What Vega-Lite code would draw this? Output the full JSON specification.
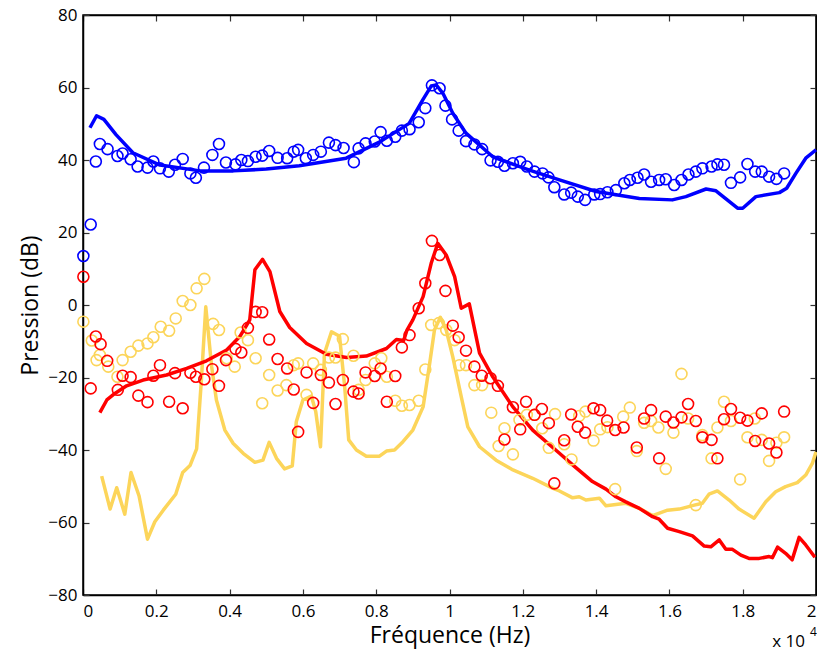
{
  "$schema": "https://vega.github.io/schema/vega-lite/v6.json",
  "width": 733,
  "height": 580,
  "autosize": "none",
  "padding": {"left": 83, "top": 15, "right": 1, "bottom": 57},
  "background": "white",
  "config": {
    "font": "Open Sans",
    "view": {"stroke": "black", "strokeWidth": 1.5},
    "axis": {
      "domainColor": "black", "domainWidth": 1.5, "tickColor": "#333", "tickWidth": 1.2,
      "tickSize": -6, "grid": false, "labelFont": "Open Sans", "labelFontSize": 17,
      "labelColor": "black", "titleFont": "Open Sans", "titleFontSize": 23,
      "titleFontWeight": "normal", "titleColor": "black"
    }
  },
  "datasets": {
    "lines": [
      {"s":"b","f":0.019,"p":48.9},{"s":"b","f":0.037,"p":52.2},{"s":"b","f":0.057,"p":51.2},{"s":"b","f":0.09,"p":47},{"s":"b","f":0.136,"p":42},{"s":"b","f":0.21,"p":38.6},{"s":"b","f":0.32,"p":37},{"s":"b","f":0.41,"p":37},{"s":"b","f":0.5,"p":37.5},{"s":"b","f":0.59,"p":38.4},{"s":"b","f":0.718,"p":40.5},{"s":"b","f":0.81,"p":45},{"s":"b","f":0.89,"p":50.1},{"s":"b","f":0.927,"p":56.6},{"s":"b","f":0.95,"p":60.4},{"s":"b","f":0.964,"p":60.7},{"s":"b","f":0.982,"p":58.4},{"s":"b","f":1.009,"p":52.9},{"s":"b","f":1.045,"p":47.4},{"s":"b","f":1.118,"p":40.9},{"s":"b","f":1.218,"p":37.2},{"s":"b","f":1.3,"p":34.5},{"s":"b","f":1.4,"p":31.3},{"s":"b","f":1.518,"p":29.4},{"s":"b","f":1.608,"p":29},{"s":"b","f":1.645,"p":29.9},{"s":"b","f":1.7,"p":32},{"s":"b","f":1.727,"p":31.5},{"s":"b","f":1.786,"p":26.7},{"s":"b","f":1.8,"p":26.7},{"s":"b","f":1.836,"p":29.9},{"s":"b","f":1.9,"p":31},{"s":"b","f":1.92,"p":32.2},{"s":"b","f":1.945,"p":36.3},{"s":"b","f":1.972,"p":40.5},{"s":"b","f":2.0,"p":42.8},
      {"s":"y","f":0.051,"p":-47.2},{"s":"y","f":0.074,"p":-56.3},{"s":"y","f":0.092,"p":-50.4},{"s":"y","f":0.114,"p":-57.7},{"s":"y","f":0.131,"p":-46.2},{"s":"y","f":0.153,"p":-52.7},{"s":"y","f":0.176,"p":-64.6},{"s":"y","f":0.196,"p":-59.8},{"s":"y","f":0.219,"p":-56.6},{"s":"y","f":0.253,"p":-52.2},{"s":"y","f":0.272,"p":-46.2},{"s":"y","f":0.292,"p":-44.3},{"s":"y","f":0.31,"p":-39.7},{"s":"y","f":0.323,"p":-20.7},{"s":"y","f":0.335,"p":-0.5},{"s":"y","f":0.351,"p":-17},{"s":"y","f":0.364,"p":-26.2},{"s":"y","f":0.387,"p":-34.5},{"s":"y","f":0.41,"p":-38.2},{"s":"y","f":0.437,"p":-40.9},{"s":"y","f":0.469,"p":-43.4},{"s":"y","f":0.491,"p":-42.8},{"s":"y","f":0.508,"p":-37.9},{"s":"y","f":0.528,"p":-42.3},{"s":"y","f":0.55,"p":-45.2},{"s":"y","f":0.571,"p":-44.4},{"s":"y","f":0.582,"p":-32.2},{"s":"y","f":0.6,"p":-26.2},{"s":"y","f":0.623,"p":-25.1},{"s":"y","f":0.635,"p":-29.4},{"s":"y","f":0.648,"p":-39.1},{"s":"y","f":0.659,"p":-13.3},{"s":"y","f":0.678,"p":-7.4},{"s":"y","f":0.7,"p":-8.6},{"s":"y","f":0.714,"p":-22.5},{"s":"y","f":0.725,"p":-37.2},{"s":"y","f":0.746,"p":-40},{"s":"y","f":0.773,"p":-41.7},{"s":"y","f":0.809,"p":-41.7},{"s":"y","f":0.828,"p":-40.3},{"s":"y","f":0.85,"p":-40},{"s":"y","f":0.873,"p":-37.7},{"s":"y","f":0.9,"p":-34.5},{"s":"y","f":0.928,"p":-28.1},{"s":"y","f":0.946,"p":-16.1},{"s":"y","f":0.959,"p":-6.9},{"s":"y","f":0.975,"p":-3.4},{"s":"y","f":0.991,"p":-6.9},{"s":"y","f":1.009,"p":-14.3},{"s":"y","f":1.032,"p":-25.3},{"s":"y","f":1.05,"p":-33.6},{"s":"y","f":1.082,"p":-39.1},{"s":"y","f":1.127,"p":-42.8},{"s":"y","f":1.173,"p":-45.5},{"s":"y","f":1.227,"p":-47.8},{"s":"y","f":1.281,"p":-50.5},{"s":"y","f":1.3,"p":-51.3},{"s":"y","f":1.336,"p":-53.2},{"s":"y","f":1.354,"p":-52.9},{"s":"y","f":1.372,"p":-53.8},{"s":"y","f":1.409,"p":-53.3},{"s":"y","f":1.427,"p":-55.4},{"s":"y","f":1.481,"p":-54.7},{"s":"y","f":1.518,"p":-56.1},{"s":"y","f":1.554,"p":-58.1},{"s":"y","f":1.595,"p":-56.6},{"s":"y","f":1.627,"p":-56.3},{"s":"y","f":1.668,"p":-55.2},{"s":"y","f":1.69,"p":-54.7},{"s":"y","f":1.708,"p":-52.2},{"s":"y","f":1.731,"p":-51.3},{"s":"y","f":1.763,"p":-53.8},{"s":"y","f":1.79,"p":-56.3},{"s":"y","f":1.831,"p":-58.8},{"s":"y","f":1.863,"p":-54.3},{"s":"y","f":1.89,"p":-51.5},{"s":"y","f":1.917,"p":-50.1},{"s":"y","f":1.949,"p":-49},{"s":"y","f":1.972,"p":-46.9},{"s":"y","f":1.99,"p":-43.7},{"s":"y","f":2.0,"p":-40.5},
      {"s":"r","f":0.046,"p":-29.7},{"s":"r","f":0.065,"p":-26.2},{"s":"r","f":0.087,"p":-24.4},{"s":"r","f":0.119,"p":-22.3},{"s":"r","f":0.164,"p":-20.7},{"s":"r","f":0.228,"p":-19.3},{"s":"r","f":0.283,"p":-17.5},{"s":"r","f":0.337,"p":-15.4},{"s":"r","f":0.392,"p":-12.4},{"s":"r","f":0.428,"p":-8.7},{"s":"r","f":0.455,"p":-4.1},{"s":"r","f":0.469,"p":9.7},{"s":"r","f":0.49,"p":12.6},{"s":"r","f":0.51,"p":9.2},{"s":"r","f":0.537,"p":-1.8},{"s":"r","f":0.564,"p":-6.2},{"s":"r","f":0.61,"p":-10.6},{"s":"r","f":0.664,"p":-13.6},{"s":"r","f":0.719,"p":-14.5},{"s":"r","f":0.773,"p":-14.1},{"s":"r","f":0.828,"p":-12},{"s":"r","f":0.855,"p":-9.5},{"s":"r","f":0.875,"p":-9.8},{"s":"r","f":0.884,"p":-6.9},{"s":"r","f":0.9,"p":-4.1},{"s":"r","f":0.928,"p":2.3},{"s":"r","f":0.95,"p":11.5},{"s":"r","f":0.968,"p":17},{"s":"r","f":0.991,"p":13.8},{"s":"r","f":1.014,"p":7.8},{"s":"r","f":1.032,"p":-0.9},{"s":"r","f":1.054,"p":0.3},{"s":"r","f":1.082,"p":-13.3},{"s":"r","f":1.118,"p":-19.8},{"s":"r","f":1.173,"p":-28.1},{"s":"r","f":1.227,"p":-34.5},{"s":"r","f":1.3,"p":-40.9},{"s":"r","f":1.336,"p":-44.1},{"s":"r","f":1.39,"p":-48.7},{"s":"r","f":1.427,"p":-50.8},{"s":"r","f":1.454,"p":-52.9},{"s":"r","f":1.481,"p":-54.3},{"s":"r","f":1.518,"p":-56.1},{"s":"r","f":1.554,"p":-58.4},{"s":"r","f":1.572,"p":-59.1},{"s":"r","f":1.595,"p":-61.6},{"s":"r","f":1.627,"p":-62.5},{"s":"r","f":1.663,"p":-63.7},{"s":"r","f":1.695,"p":-66.5},{"s":"r","f":1.713,"p":-66.7},{"s":"r","f":1.736,"p":-64.8},{"s":"r","f":1.754,"p":-67.4},{"s":"r","f":1.772,"p":-67.4},{"s":"r","f":1.795,"p":-69},{"s":"r","f":1.817,"p":-69.9},{"s":"r","f":1.845,"p":-69.9},{"s":"r","f":1.872,"p":-69.4},{"s":"r","f":1.881,"p":-69.7},{"s":"r","f":1.895,"p":-66.8},{"s":"r","f":1.917,"p":-68.5},{"s":"r","f":1.935,"p":-70.3},{"s":"r","f":1.954,"p":-64.1},{"s":"r","f":1.972,"p":-66.2},{"s":"r","f":1.997,"p":-69.6}
    ],
    "pts": [
      {"s":"b","f":0.001,"p":13.5},{"s":"b","f":0.021,"p":22.2},{"s":"b","f":0.035,"p":39.6},{"s":"b","f":0.046,"p":44.4},{"s":"b","f":0.067,"p":43},{"s":"b","f":0.094,"p":41.1},{"s":"b","f":0.108,"p":41.8},{"s":"b","f":0.13,"p":40.2},{"s":"b","f":0.149,"p":38.2},{"s":"b","f":0.176,"p":37.9},{"s":"b","f":0.192,"p":39.6},{"s":"b","f":0.21,"p":37.7},{"s":"b","f":0.234,"p":36.8},{"s":"b","f":0.251,"p":38.7},{"s":"b","f":0.272,"p":40.3},{"s":"b","f":0.293,"p":36.3},{"s":"b","f":0.308,"p":35.1},{"s":"b","f":0.33,"p":37.9},{"s":"b","f":0.353,"p":41.4},{"s":"b","f":0.371,"p":44.4},{"s":"b","f":0.39,"p":39.3},{"s":"b","f":0.416,"p":38.8},{"s":"b","f":0.432,"p":40},{"s":"b","f":0.45,"p":39.7},{"s":"b","f":0.471,"p":40.9},{"s":"b","f":0.489,"p":41.2},{"s":"b","f":0.508,"p":42.5},{"s":"b","f":0.531,"p":40.6},{"s":"b","f":0.557,"p":40.5},{"s":"b","f":0.575,"p":42.3},{"s":"b","f":0.587,"p":42.8},{"s":"b","f":0.608,"p":40.5},{"s":"b","f":0.628,"p":41.4},{"s":"b","f":0.649,"p":42.3},{"s":"b","f":0.671,"p":44.8},{"s":"b","f":0.689,"p":44.1},{"s":"b","f":0.711,"p":43.3},{"s":"b","f":0.739,"p":39.4},{"s":"b","f":0.752,"p":43.2},{"s":"b","f":0.771,"p":44.6},{"s":"b","f":0.796,"p":45.1},{"s":"b","f":0.812,"p":47.7},{"s":"b","f":0.829,"p":45.3},{"s":"b","f":0.852,"p":46.4},{"s":"b","f":0.87,"p":48.1},{"s":"b","f":0.891,"p":48.5},{"s":"b","f":0.916,"p":50.4},{"s":"b","f":0.934,"p":54.3},{"s":"b","f":0.952,"p":60.6},{"s":"b","f":0.973,"p":59.8},{"s":"b","f":0.989,"p":55},{"s":"b","f":1.007,"p":51.2},{"s":"b","f":1.025,"p":48.1},{"s":"b","f":1.045,"p":45.2},{"s":"b","f":1.068,"p":44.3},{"s":"b","f":1.089,"p":43},{"s":"b","f":1.112,"p":39.9},{"s":"b","f":1.132,"p":39.5},{"s":"b","f":1.15,"p":38.4},{"s":"b","f":1.173,"p":39.1},{"s":"b","f":1.193,"p":39.5},{"s":"b","f":1.211,"p":38.2},{"s":"b","f":1.232,"p":36.8},{"s":"b","f":1.254,"p":36.3},{"s":"b","f":1.27,"p":35.2},{"s":"b","f":1.286,"p":32.5},{"s":"b","f":1.313,"p":30.5},{"s":"b","f":1.332,"p":31},{"s":"b","f":1.35,"p":29.9},{"s":"b","f":1.37,"p":29},{"s":"b","f":1.395,"p":30.5},{"s":"b","f":1.411,"p":30.6},{"s":"b","f":1.431,"p":31.1},{"s":"b","f":1.454,"p":31.7},{"s":"b","f":1.477,"p":33.6},{"s":"b","f":1.492,"p":34.5},{"s":"b","f":1.513,"p":35.1},{"s":"b","f":1.531,"p":36},{"s":"b","f":1.55,"p":34},{"s":"b","f":1.572,"p":34.5},{"s":"b","f":1.59,"p":34.7},{"s":"b","f":1.613,"p":33.1},{"s":"b","f":1.633,"p":34.5},{"s":"b","f":1.652,"p":36},{"s":"b","f":1.672,"p":36.8},{"s":"b","f":1.69,"p":37.7},{"s":"b","f":1.715,"p":38.2},{"s":"b","f":1.731,"p":38.8},{"s":"b","f":1.749,"p":38.7},{"s":"b","f":1.768,"p":33.7},{"s":"b","f":1.793,"p":35.2},{"s":"b","f":1.813,"p":38.9},{"s":"b","f":1.834,"p":36.8},{"s":"b","f":1.852,"p":36.8},{"s":"b","f":1.872,"p":35.4},{"s":"b","f":1.892,"p":34.8},{"s":"b","f":1.913,"p":36.3},
      {"s":"y","f":0.001,"p":-4.6},{"s":"y","f":0.024,"p":-9.8},{"s":"y","f":0.037,"p":-15.2},{"s":"y","f":0.046,"p":-13.8},{"s":"y","f":0.069,"p":-17},{"s":"y","f":0.094,"p":-19.8},{"s":"y","f":0.108,"p":-15.2},{"s":"y","f":0.13,"p":-12.9},{"s":"y","f":0.151,"p":-11.2},{"s":"y","f":0.176,"p":-10.6},{"s":"y","f":0.192,"p":-8.9},{"s":"y","f":0.212,"p":-6},{"s":"y","f":0.235,"p":-7.1},{"s":"y","f":0.253,"p":-3.7},{"s":"y","f":0.272,"p":1.1},{"s":"y","f":0.293,"p":0},{"s":"y","f":0.31,"p":4.6},{"s":"y","f":0.331,"p":7.2},{"s":"y","f":0.355,"p":-5.2},{"s":"y","f":0.371,"p":-6.9},{"s":"y","f":0.392,"p":-14.7},{"s":"y","f":0.414,"p":-17},{"s":"y","f":0.43,"p":-7.6},{"s":"y","f":0.45,"p":-9.7},{"s":"y","f":0.471,"p":-14.7},{"s":"y","f":0.489,"p":-27.1},{"s":"y","f":0.508,"p":-19.3},{"s":"y","f":0.531,"p":-23.6},{"s":"y","f":0.555,"p":-22.1},{"s":"y","f":0.575,"p":-16.6},{"s":"y","f":0.587,"p":-16.1},{"s":"y","f":0.61,"p":-24.8},{"s":"y","f":0.628,"p":-16.1},{"s":"y","f":0.649,"p":-17.9},{"s":"y","f":0.671,"p":-14.5},{"s":"y","f":0.689,"p":-14.5},{"s":"y","f":0.709,"p":-9.4},{"s":"y","f":0.738,"p":-14},{"s":"y","f":0.752,"p":-23.4},{"s":"y","f":0.771,"p":-20.7},{"s":"y","f":0.796,"p":-16.1},{"s":"y","f":0.814,"p":-14.7},{"s":"y","f":0.829,"p":-19.8},{"s":"y","f":0.852,"p":-26.4},{"s":"y","f":0.87,"p":-27.8},{"s":"y","f":0.891,"p":-27.6},{"s":"y","f":0.916,"p":-26.4},{"s":"y","f":0.934,"p":-17.8},{"s":"y","f":0.95,"p":-5.5},{"s":"y","f":0.971,"p":-5},{"s":"y","f":0.991,"p":-6.9},{"s":"y","f":1.014,"p":-9.7},{"s":"y","f":1.027,"p":-16.6},{"s":"y","f":1.045,"p":-16.6},{"s":"y","f":1.068,"p":-22.1},{"s":"y","f":1.089,"p":-22.1},{"s":"y","f":1.114,"p":-29.7},{"s":"y","f":1.134,"p":-38.9},{"s":"y","f":1.15,"p":-34},{"s":"y","f":1.173,"p":-41.2},{"s":"y","f":1.191,"p":-31.7},{"s":"y","f":1.211,"p":-30.3},{"s":"y","f":1.232,"p":-30.3},{"s":"y","f":1.253,"p":-34},{"s":"y","f":1.271,"p":-39.4},{"s":"y","f":1.288,"p":-30.1},{"s":"y","f":1.313,"p":-38.4},{"s":"y","f":1.333,"p":-42.6},{"s":"y","f":1.354,"p":-30.6},{"s":"y","f":1.371,"p":-29.4},{"s":"y","f":1.393,"p":-37.4},{"s":"y","f":1.411,"p":-34.3},{"s":"y","f":1.431,"p":-33.7},{"s":"y","f":1.452,"p":-50.8},{"s":"y","f":1.474,"p":-30.8},{"s":"y","f":1.492,"p":-28.3},{"s":"y","f":1.511,"p":-40.3},{"s":"y","f":1.531,"p":-32.5},{"s":"y","f":1.55,"p":-32},{"s":"y","f":1.57,"p":-33.8},{"s":"y","f":1.59,"p":-45.2},{"s":"y","f":1.611,"p":-35.2},{"s":"y","f":1.633,"p":-19},{"s":"y","f":1.651,"p":-31.3},{"s":"y","f":1.672,"p":-55.2},{"s":"y","f":1.69,"p":-35.9},{"s":"y","f":1.715,"p":-42.3},{"s":"y","f":1.731,"p":-33.8},{"s":"y","f":1.749,"p":-26.7},{"s":"y","f":1.768,"p":-32},{"s":"y","f":1.793,"p":-48.1},{"s":"y","f":1.813,"p":-36.5},{"s":"y","f":1.833,"p":-31.3},{"s":"y","f":1.852,"p":-37.2},{"s":"y","f":1.872,"p":-43},{"s":"y","f":1.892,"p":-38},{"s":"y","f":1.913,"p":-36.5},
      {"s":"r","f":0.001,"p":7.8},{"s":"r","f":0.021,"p":-23},{"s":"r","f":0.035,"p":-8.7},{"s":"r","f":0.048,"p":-10.8},{"s":"r","f":0.066,"p":-15.4},{"s":"r","f":0.095,"p":-23.4},{"s":"r","f":0.108,"p":-19.5},{"s":"r","f":0.13,"p":-19.9},{"s":"r","f":0.151,"p":-25},{"s":"r","f":0.176,"p":-26.8},{"s":"r","f":0.192,"p":-19.5},{"s":"r","f":0.21,"p":-16.6},{"s":"r","f":0.235,"p":-26.7},{"s":"r","f":0.251,"p":-18.8},{"s":"r","f":0.272,"p":-28.5},{"s":"r","f":0.293,"p":-18.7},{"s":"r","f":0.308,"p":-19.8},{"s":"r","f":0.331,"p":-20.5},{"s":"r","f":0.353,"p":-17.7},{"s":"r","f":0.371,"p":-22.3},{"s":"r","f":0.39,"p":-15.2},{"s":"r","f":0.416,"p":-12.1},{"s":"r","f":0.432,"p":-13.1},{"s":"r","f":0.45,"p":-6.3},{"s":"r","f":0.471,"p":-1.9},{"s":"r","f":0.489,"p":-2},{"s":"r","f":0.508,"p":-9.5},{"s":"r","f":0.531,"p":-14.9},{"s":"r","f":0.557,"p":-17.5},{"s":"r","f":0.575,"p":-23.3},{"s":"r","f":0.587,"p":-35},{"s":"r","f":0.61,"p":-18.6},{"s":"r","f":0.628,"p":-27},{"s":"r","f":0.649,"p":-19.3},{"s":"r","f":0.671,"p":-21.4},{"s":"r","f":0.689,"p":-27.3},{"s":"r","f":0.709,"p":-20.7},{"s":"r","f":0.738,"p":-23.9},{"s":"r","f":0.752,"p":-24.4},{"s":"r","f":0.771,"p":-18.6},{"s":"r","f":0.796,"p":-19.6},{"s":"r","f":0.812,"p":-17.5},{"s":"r","f":0.829,"p":-26.7},{"s":"r","f":0.852,"p":-19.6},{"s":"r","f":0.87,"p":-11.7},{"s":"r","f":0.891,"p":-8.3},{"s":"r","f":0.916,"p":-0.9},{"s":"r","f":0.934,"p":6},{"s":"r","f":0.952,"p":17.7},{"s":"r","f":0.973,"p":13.8},{"s":"r","f":0.989,"p":3.9},{"s":"r","f":1.009,"p":-5.7},{"s":"r","f":1.025,"p":-8.9},{"s":"r","f":1.045,"p":-12.6},{"s":"r","f":1.068,"p":-17},{"s":"r","f":1.088,"p":-19.5},{"s":"r","f":1.112,"p":-20.2},{"s":"r","f":1.132,"p":-22.3},{"s":"r","f":1.15,"p":-37.1},{"s":"r","f":1.173,"p":-28.2},{"s":"r","f":1.193,"p":-34.3},{"s":"r","f":1.209,"p":-26.7},{"s":"r","f":1.232,"p":-30.3},{"s":"r","f":1.252,"p":-28.7},{"s":"r","f":1.271,"p":-32.6},{"s":"r","f":1.286,"p":-49.2},{"s":"r","f":1.313,"p":-37.3},{"s":"r","f":1.332,"p":-30.2},{"s":"r","f":1.35,"p":-33.6},{"s":"r","f":1.37,"p":-35.2},{"s":"r","f":1.393,"p":-28.5},{"s":"r","f":1.411,"p":-29},{"s":"r","f":1.43,"p":-31.9},{"s":"r","f":1.452,"p":-34.5},{"s":"r","f":1.475,"p":-33.8},{"s":"r","f":1.511,"p":-39.3},{"s":"r","f":1.531,"p":-31.3},{"s":"r","f":1.55,"p":-29},{"s":"r","f":1.572,"p":-42.3},{"s":"r","f":1.59,"p":-30.8},{"s":"r","f":1.611,"p":-32.4},{"s":"r","f":1.633,"p":-31},{"s":"r","f":1.651,"p":-27.3},{"s":"r","f":1.672,"p":-32},{"s":"r","f":1.69,"p":-36.5},{"s":"r","f":1.715,"p":-37.2},{"s":"r","f":1.731,"p":-42.3},{"s":"r","f":1.749,"p":-31.5},{"s":"r","f":1.768,"p":-28.7},{"s":"r","f":1.793,"p":-31.1},{"s":"r","f":1.813,"p":-31.9},{"s":"r","f":1.834,"p":-37.5},{"s":"r","f":1.852,"p":-29.9},{"s":"r","f":1.872,"p":-38.2},{"s":"r","f":1.892,"p":-40.7},{"s":"r","f":1.913,"p":-29.4}
    ]
  },
  "resolve": {"axis": {"x": "independent", "y": "independent"}},
  "layer": [
    {
      "data": {"name": "lines"},
      "mark": {"type": "line", "strokeWidth": 3.5, "strokeJoin": "round"},
      "encoding": {
        "x": {"field": "f", "type": "quantitative", "scale": {"domain": [0, 2], "nice": false},
          "axis": {"orient": "bottom", "values": [0,0.2,0.4,0.6,0.8,1,1.2,1.4,1.6,1.8,2], "format": ".1~f", "title": "Fréquence (Hz)", "labelPadding": 14, "titlePadding": 5}},
        "y": {"field": "p", "type": "quantitative", "scale": {"domain": [-80, 80], "nice": false},
          "axis": {"orient": "left", "values": [-80,-60,-40,-20,0,20,40,60,80], "title": "Pression (dB)", "labelPadding": 12, "titlePadding": 5}},
        "color": {"field": "s", "type": "nominal", "scale": {"domain": ["b","r","y"], "range": ["#0000FF","#FF0000","#FCD55A"]}, "legend": null},
        "detail": {"field": "s"}
      }
    },
    {
      "data": {"name": "pts"},
      "mark": {"type": "point", "shape": "circle", "filled": false, "size": 120, "strokeWidth": 1.6, "opacity": 1},
      "encoding": {
        "x": {"field": "f", "type": "quantitative", "scale": {"domain": [0, 2], "nice": false},
          "axis": {"orient": "top", "values": [0,0.2,0.4,0.6,0.8,1,1.2,1.4,1.6,1.8,2], "labels": false, "title": null}},
        "y": {"field": "p", "type": "quantitative", "scale": {"domain": [-80, 80], "nice": false},
          "axis": {"orient": "right", "values": [-80,-60,-40,-20,0,20,40,60,80], "labels": false, "title": null}},
        "color": {"field": "s", "type": "nominal", "scale": {"domain": ["b","r","y"], "range": ["#0000FF","#FF0000","#FCD55A"]}, "legend": null}
      }
    },
    {
      "data": {"values": [{"t": "x 10"}]},
      "mark": {"type": "text", "align": "right", "baseline": "alphabetic", "fontSize": 17, "font": "Open Sans", "dx": -11, "dy": 52, "color": "black"},
      "encoding": {
        "x": {"datum": 2, "type": "quantitative", "axis": null},
        "y": {"datum": -80, "type": "quantitative", "axis": null},
        "text": {"field": "t"}
      }
    },
    {
      "data": {"values": [{"t": "4"}]},
      "mark": {"type": "text", "align": "left", "baseline": "alphabetic", "fontSize": 12, "font": "Open Sans", "dx": -6, "dy": 41, "color": "black"},
      "encoding": {
        "x": {"datum": 2, "type": "quantitative", "axis": null},
        "y": {"datum": -80, "type": "quantitative", "axis": null},
        "text": {"field": "t"}
      }
    }
  ]
}
